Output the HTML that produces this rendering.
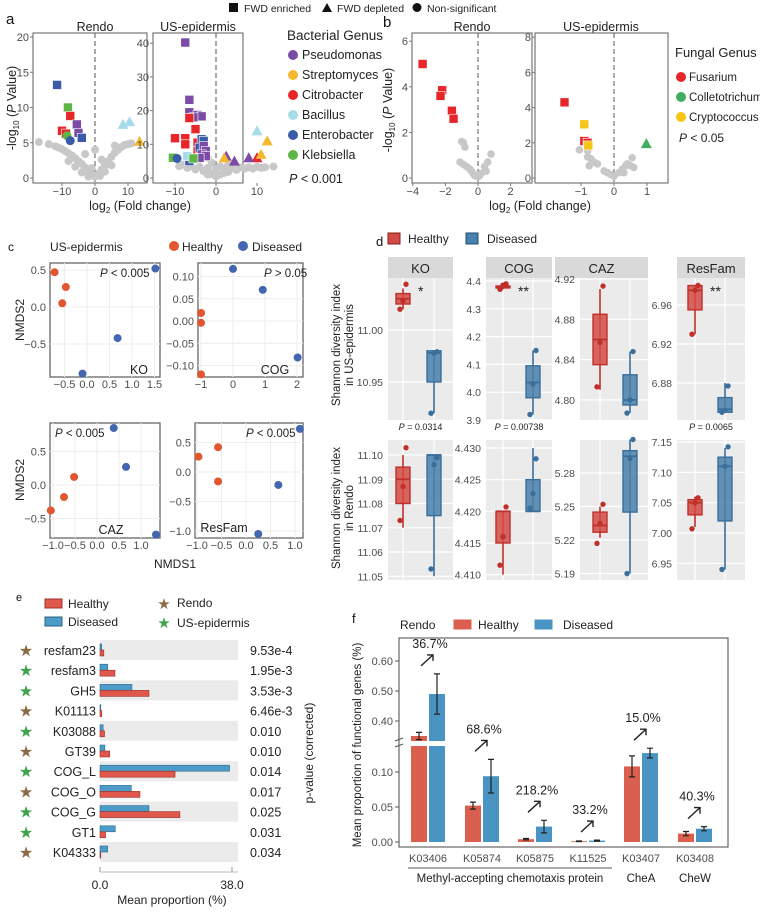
<!DOCTYPE html>
<html><head><meta charset="utf-8">
<style>
html,body{margin:0;padding:0;background:#fff;}
svg{display:block;font-family:"Liberation Sans",Arial,sans-serif;font-size:12.5px;}
.tk{fill:#4d4d4d;}
.lg{fill:#222;}
.pl{fill:#111;}
</style></head>
<body>
<svg id="fig" width="760" height="913" viewBox="0 0 760 913" xmlns="http://www.w3.org/2000/svg">
<text x="6" y="24" class="pl" font-size="15">a</text>
<text x="383" y="27" class="pl" font-size="15">b</text>
<text x="8" y="251" class="pl" font-size="12">c</text>
<text x="376" y="246" class="pl" font-size="13">d</text>
<text x="16" y="601" class="pl" font-size="11">e</text>
<text x="352" y="623" class="pl" font-size="13">f</text>

<g>
<rect x="229" y="3" width="9" height="9" fill="#111"/>
<text x="244" y="12" class="lg" font-size="10.5">FWD enriched</text>
<polygon points="327,3 322,12 332,12" fill="#111"/>
<text x="337" y="12" class="lg" font-size="10.5">FWD depleted</text>
<circle cx="417" cy="7.5" r="4.5" fill="#111"/>
<text x="427" y="12" class="lg" font-size="10.5">Non-significant</text>
</g>

<text x="95" y="31" class="lg" text-anchor="middle" font-size="12.5">Rendo</text>
<text x="198" y="31" class="lg" text-anchor="middle" font-size="12.5">US-epidermis</text>
<text transform="translate(16,108) rotate(-90)" text-anchor="middle" class="lg" font-size="12.5">-log<tspan font-size="8" dy="3">10</tspan><tspan dy="-3"> (</tspan><tspan font-style="italic">P</tspan> Value)</text>
<text x="140" y="210" text-anchor="middle" class="lg" font-size="12.5">log<tspan font-size="8" dy="3">2</tspan><tspan dy="-3"> (Fold change)</tspan></text>
<text x="287" y="40" class="lg" font-size="13.5">Bacterial Genus</text>
<g id="aLegend"></g>
<text x="289" y="183" class="lg" font-size="12.5"><tspan font-style="italic">P</tspan> &lt; 0.001</text>

<text x="472" y="31" class="lg" text-anchor="middle" font-size="12.5">Rendo</text>
<text x="601" y="31" class="lg" text-anchor="middle" font-size="12.5">US-epidermis</text>
<text transform="translate(392,110) rotate(-90)" text-anchor="middle" class="lg" font-size="12.5">-log<tspan font-size="8" dy="3">10</tspan><tspan dy="-3"> (</tspan><tspan font-style="italic">P</tspan> Value)</text>
<text x="540" y="210" text-anchor="middle" class="lg" font-size="12.5">log<tspan font-size="8" dy="3">2</tspan><tspan dy="-3"> (Fold change)</tspan></text>
<text x="675" y="57" class="lg" font-size="13">Fungal Genus</text>
<g id="bLegend"></g>
<text x="679" y="142" class="lg" font-size="12"><tspan font-style="italic">P</tspan> &lt; 0.05</text>

<text x="50" y="251" class="lg" font-size="12">US-epidermis</text>
<circle cx="174" cy="246" r="5" fill="#E2562F"/>
<text x="182" y="251" class="lg" font-size="12">Healthy</text>
<circle cx="243" cy="246" r="5" fill="#4466B0"/>
<text x="252" y="251" class="lg" font-size="12">Diseased</text>
<text transform="translate(24,320) rotate(-90)" text-anchor="middle" class="lg" font-size="12">NMDS2</text>
<text transform="translate(24,480) rotate(-90)" text-anchor="middle" class="lg" font-size="12">NMDS2</text>
<text x="175" y="568" text-anchor="middle" class="lg" font-size="12">NMDS1</text>

<rect x="388" y="233" width="12" height="11" fill="#D24B44" stroke="#8a1e1a"/>
<text x="408" y="243" class="lg" font-size="12">Healthy</text>
<rect x="466" y="233" width="12" height="11" fill="#4A80AC" stroke="#1f4a6e"/>
<text x="487" y="243" class="lg" font-size="12">Diseased</text>
<text transform="translate(340,345) rotate(-90)" text-anchor="middle" class="lg" font-size="11.5">Shannon diversity index</text>
<text transform="translate(353,345) rotate(-90)" text-anchor="middle" class="lg" font-size="11.5">in US-epidermis</text>
<text transform="translate(340,508) rotate(-90)" text-anchor="middle" class="lg" font-size="11.5">Shannon diversity index</text>
<text transform="translate(353,508) rotate(-90)" text-anchor="middle" class="lg" font-size="11.5">in Rendo</text>
<g id="dG"></g>

<rect x="45" y="599" width="17" height="9" fill="#E0584B" stroke="#9c3028"/>
<text x="68" y="608" class="lg" font-size="12">Healthy</text>
<rect x="45" y="617" width="17" height="9" fill="#4C9BC9" stroke="#2a5f80"/>
<text x="68" y="626" class="lg" font-size="12">Diseased</text>
<text x="164" y="609" text-anchor="middle" font-size="15" fill="#8B6B43">★</text>
<text x="177" y="607" class="lg" font-size="12">Rendo</text>
<text x="164" y="628" text-anchor="middle" font-size="15" fill="#3FA34D">★</text>
<text x="177" y="627" class="lg" font-size="12">US-epidermis</text>
<text transform="translate(313,753) rotate(-90)" text-anchor="middle" class="lg" font-size="12">p-value (corrected)</text>
<text x="172" y="904" text-anchor="middle" class="lg" font-size="12">Mean proportion (%)</text>
<g id="eG"></g>

<text x="400" y="629" class="lg" font-size="12">Rendo</text>
<rect x="453" y="619" width="19" height="11" fill="#DB5F4F" stroke="#fff"/>
<text x="478" y="629" class="lg" font-size="12">Healthy</text>
<rect x="534" y="619" width="19" height="11" fill="#4A94C4" stroke="#fff"/>
<text x="563" y="629" class="lg" font-size="12">Diseased</text>
<text transform="translate(361,745) rotate(-90)" text-anchor="middle" class="lg" font-size="11.5">Mean proportion of functional genes (%)</text>
<line x1="408" y1="868" x2="612" y2="868" stroke="#555"/>
<text x="510" y="882" text-anchor="middle" class="lg" font-size="11.5">Methyl-accepting chemotaxis protein</text>
<text x="641" y="882" text-anchor="middle" class="lg" font-size="11.5">CheA</text>
<text x="695" y="882" text-anchor="middle" class="lg" font-size="11.5">CheW</text>
<g id="fG"></g>
<g id="aG"></g>
<g id="bG"></g>
<g id="cG"></g>
</svg>
<script>
// ---------- DATA ----------
var aGenera = ["Pseudomonas","Streptomyces","Citrobacter","Bacillus","Enterobacter","Klebsiella"];
var aColors = ["#7B4BA6","#F5B82E","#E8262A","#A6DCEA","#3A5BA9","#5DB544"];
var aRendoSig = [[-11.5,13.2,"s",4],[-8.2,10,"s",5],[-7.5,8.8,"s",2],[-5.5,7.6,"s",0],[-10,6.7,"s",2],[-8.8,6.3,"s",2],[-5,6.4,"s",0],[-8.5,6,"c",5],[-7.5,5.3,"c",4],[-4,5.7,"s",4],[8.5,7.6,"t",3],[10.5,8,"t",3],[13.5,5.2,"t",1]];
var aRendoGray = [[-17,5.1],[-14,4.8],[-12,4.5],[-11,4.3],[-10,4.1],[-9,3.8],[-8,3.5],[-7,3.2],[-6,2.8],[-5,2.4],[-4,2],[-3,1.5],[-2,1],[-1,0.5],[0,0.2],[1,0.6],[2,1.2],[3,1.8],[4,2.4],[5,3],[6,3.6],[7,4],[8,4.4],[9,4.7],[10,4.8],[11,4.9],[-6,1.6],[-4,0.8],[3,0.9],[5,1.8],[-8,2.4],[-2,0.2],[1.5,0.3],[6,4.6],[-1,1.4],[2,2.6],[-3,3.4],[0,4]];
var aUsSig = [[-7.5,40.2,"s",0],[-6.5,23.2,"s",0],[-6.5,19.5,"s",0],[-4.5,18.7,"s",0],[-3.5,18.3,"s",0],[-5.5,18,"s",0],[-6.5,17.8,"s",2],[-10,11.8,"s",2],[-7.5,11.8,"s",2],[-7.5,10,"s",2],[-5,14.5,"s",2],[-4.5,10.5,"s",2],[-4.5,8,"s",2],[-3.5,11.5,"s",4],[-3,11,"s",4],[-4,9,"s",4],[-6.5,5,"s",4],[-3,9.5,"s",0],[-2.5,8,"s",0],[-3.5,7,"s",0],[-2.5,6.5,"s",0],[-4,6,"s",0],[-7,6.5,"s",3],[-10.5,6,"s",5],[-5.5,5.8,"s",5],[-9.5,5.8,"c",4],[10,6,"t",2],[2.5,6.5,"t",0],[4.5,5,"t",0],[8,6,"t",0],[2,6,"t",1],[11,7,"t",1],[12.5,11,"t",1],[10,14,"t",3]];
var aUsGray = [[-8,4],[-6,3.6],[-4,3.3],[-2,3],[0,2.8],[2,2.9],[4,3],[6,3.1],[8,3.2],[10,3.3],[12,3.2],[14,3.4],[-3,2],[-1,1.2],[0,0.5],[1,1],[3,1.8],[5,2.4],[7,2.8],[-5,2.5],[-7,3],[-9,3.5],[-2,1],[2,1.5],[9,2.8],[11,3],[-6,5],[-4,5.5],[-3,7],[-2,6],[-1,4.5],[1,3.5],[3,4]];
var aRendoYTicks = [0,5,10,15,20];
var aUsYTicks = [0,10,20,30,40];
var aXTicks = [-10,0,10];

var bGenera = ["Fusarium","Colletotrichum","Cryptococcus"];
var bColors = ["#E8262A","#3FAE62","#F5C518"];
var bRendoSig = [[-3.4,5,"s",0],[-2.2,3.85,"s",0],[-2.3,3.6,"s",0],[-1.6,2.95,"s",0],[-1.5,2.6,"s",0]];
var bRendoGray = [[-1,1.6],[-0.9,1.55],[-0.8,1.35],[-1.1,0.7],[-0.9,0.6],[-0.5,0.4],[-0.3,0.2],[-0.2,0.1],[0,0.05],[0.2,0.2],[0.4,0.5],[0.6,0.7],[0.8,1.05],[0.5,0.3],[-0.4,0.3],[-0.7,0.5],[0.1,0.1]];
var bUsSig = [[-1.5,4.3,"s",0],[-0.9,2.1,"s",0],[-0.8,2.0,"s",0],[-0.9,3.05,"s",2],[-0.78,1.85,"s",2],[0.98,1.95,"t",1]];
var bUsGray = [[-1.05,1.6],[-0.8,1.55],[-0.8,1.2],[-0.7,1.1],[-0.6,0.9],[-0.5,0.8],[-0.75,0.7],[-0.3,0.4],[-0.2,0.3],[-0.1,0.2],[0,0.1],[0.15,0.3],[0.25,0.5],[0.35,0.7],[0.4,0.8],[0.5,0.7],[0.55,1.15],[0.6,0.6],[0.3,0.3]];
var bRendoXTicks = [-4,-2,0,2];
var bRendoYTicks = [0,2,4,6];
var bUsXTicks = [-1,0,1];
var bUsYTicks = [0,2,4,6,8];

var cKoH = [[-0.72,0.47],[-0.47,0.27],[-0.55,0.05]];
var cKoD = [[1.52,0.52],[0.68,-0.42],[-0.1,-0.9]];
var cCogH = [[-1,0.018],[-1,-0.004],[-1,-0.12]];
var cCogD = [[0,0.117],[0.93,0.07],[2.02,-0.082]];
var cCazH = [[-1.05,-0.38],[-0.75,-0.18],[-0.52,0.12]];
var cCazD = [[0.38,0.85],[0.66,0.27],[1.34,-0.74]];
var cResH = [[-0.97,0.26],[-0.57,0.42],[-0.57,-0.16]];
var cResD = [[1.1,0.73],[0.66,-0.22],[0.25,-1.05]];

var dFacets = ["KO","COG","CAZ","ResFam"];
var dUsH = [[11.02,11.025,11.03,11.035,11.04],[4.37,4.375,4.38,4.382,4.39],[4.81,4.835,4.86,4.885,4.91],[6.93,6.955,6.975,6.98,6.98]];
var dUsD = [[10.92,10.95,10.978,10.98,10.98],[3.92,3.98,4.035,4.095,4.15],[4.787,4.795,4.80,4.825,4.848],[6.85,6.85,6.853,6.865,6.88]];
var dUsHPts = [[11.02,11.028,11.044],[4.37,4.385,4.39],[4.813,4.857,4.913],[6.93,6.975,6.98]];
var dUsDPts = [[10.92,10.978,10.979],[3.92,4.03,4.15],[4.787,4.80,4.848],[6.85,6.852,6.877]];
var dRenH = [[11.07,11.08,11.09,11.095,11.10],[4.41,4.415,4.42,4.42,4.42],[5.222,5.227,5.233,5.245,5.25],[7.01,7.03,7.05,7.055,7.06]];
var dRenD = [[11.05,11.075,11.10,11.10,11.10],[4.42,4.42,4.42,4.425,4.43],[5.19,5.245,5.295,5.30,5.31],[6.94,7.02,7.11,7.125,7.14]];
var dRenHPts = [[11.073,11.087,11.103],[4.4115,4.416,4.4207],[5.217,5.235,5.252],[7.007,7.05,7.058]];
var dRenDPts = [[11.053,11.096,11.099],[4.4205,4.4228,4.4283],[5.19,5.293,5.31],[6.94,7.11,7.142]];
var dUsTicks = [["11.00","10.95"],["4.4","4.3","4.2","4.1","4.0","3.9"],["4.92","4.88","4.84","4.80"],["6.96","6.92","6.88"]];
var dRenTicks = [["11.10","11.09","11.08","11.07","11.06","11.05"],["4.430","4.425","4.420","4.415","4.410"],["5.28","5.25","5.22","5.19"],["7.15","7.10","7.05","7.00","6.95"]];
var dPLabels = [" = 0.0314"," = 0.00738",""," = 0.0065"];
var dStars = ["*","**","","**"];

var eTerms = ["resfam23","resfam3","GH5","K01113","K03088","GT39","COG_L","COG_O","COG_G","GT1","K04333"];
var eSite = ["R","U","U","R","U","R","U","R","U","U","R"];
var eHealthy = [1.1,4.3,14.1,0.5,1.3,2.8,21.6,11.5,23,1.6,0.1];
var eDiseased = [0.5,2.2,9.2,0.2,0.9,1.4,37.3,9,14.1,4.4,2.2];
var ePvals = ["9.53e-4","1.95e-3","3.53e-3","6.46e-3","0.010","0.010","0.014","0.017","0.025","0.031","0.034"];
var eXTicks = [0,38];

var fGenes = ["K03406","K05874","K05875","K11525","K03407","K03408"];
var fHealthy = [0.35,0.052,0.004,0.001,0.108,0.012];
var fDiseased = [0.49,0.094,0.022,0.002,0.127,0.019];
var fHealthyErr = [0.012,0.005,0.001,0.0004,0.015,0.003];
var fDiseasedErr = [0.067,0.024,0.009,0.0008,0.007,0.003];
var fChange = ["36.7%","68.6%","218.2%","33.2%","15.0%","40.3%"];
var fTicksLow = [0,0.05,0.10];
var fTicksHigh = [0.40,0.50,0.60];

// ---------- helpers ----------
var NS="http://www.w3.org/2000/svg";
function mk(tag,attrs,parent){var e=document.createElementNS(NS,tag);for(var k in attrs)e.setAttribute(k,attrs[k]);parent.appendChild(e);return e;}
function txt(s,attrs,parent){if(attrs["class"]=="tk"&&!attrs["font-size"])attrs["font-size"]="11";var e=mk("text",attrs,parent);e.textContent=s;return e;}

function volcano(g,box,sx,sy,xt,yt,gray,sig,colors,pre,gr){
  var f=mk("rect",{x:box[0],y:box[1],width:box[2]-box[0],height:box[3]-box[1],fill:"#fff",stroke:"#777","stroke-width":1.2},g);
  
  
  var z=mk("line",{x1:sx(0),x2:sx(0),y1:box[1],y2:box[3],stroke:"#555","stroke-dasharray":"5,3"},g);
  
  
  xt.forEach(function(v){
    var t=txt(v<0?"\u2212"+(-v):String(v),{x:sx(v),y:box[3]+12,"text-anchor":"middle",class:"tk"},g);
    
    
    mk("line",{x1:sx(v),x2:sx(v),y1:box[3],y2:box[3]+3,stroke:"#777"},g);
  });
  yt.forEach(function(v){
    var t=txt(String(v),{x:box[0]-4,y:sy(v)+4,"text-anchor":"end",class:"tk"},g);
    
    
    mk("line",{x1:box[0]-3,x2:box[0],y1:sy(v),y2:sy(v),stroke:"#777"},g);
  });
  gray.forEach(function(p){
    var c=mk("circle",{cx:sx(p[0]),cy:sy(p[1]),r:gr,fill:"#C8C8C8"},g);
    
    
  });
  sig.forEach(function(p){
    var x=sx(p[0]),y=sy(p[1]),col=colors[p[3]],e;
    if(p[2]=="s")e=mk("rect",{x:x-4.5,y:y-4.5,width:9,height:9,fill:col,stroke:"#fff","stroke-width":0.6},g);
    else if(p[2]=="t")e=mk("polygon",{points:x+","+(y-5.5)+" "+(x-5.5)+","+(y+4.5)+" "+(x+5.5)+","+(y+4.5),fill:col},g);
    else e=mk("circle",{cx:x,cy:y,r:4.5,fill:col},g);
    
    
  });
}
var aG=document.getElementById("aG");
volcano(aG,[33,33,147,183],function(v){return 95+v*3.3;},function(v){return 178-v*7.05;},aXTicks,aRendoYTicks,aRendoGray,aRendoSig,aColors,"a-rendo",4);
volcano(aG,[153,33,243,183],function(v){return 216+v*4.1;},function(v){return 178-v*3.37;},aXTicks,aUsYTicks,aUsGray,aUsSig,aColors,"a-us",4);
var aL=document.getElementById("aLegend");
aGenera.forEach(function(n,i){
  var y=59+i*20;
  var c=mk("circle",{cx:293,cy:y-4,r:5,fill:aColors[i]},aL);
  
  
  var t=txt(n,{x:302,y:y,class:"lg","font-size":"12.5"},aL);
  
  
});
var bG=document.getElementById("bG");
volcano(bG,[412,33,532,183],function(v){return 478+v*16.3;},function(v){return 178-v*22.8;},bRendoXTicks,bRendoYTicks,bRendoGray,bRendoSig,bColors,"b-rendo",3.8);
volcano(bG,[535,33,668,183],function(v){return 614+v*33;},function(v){return 178-v*17.6;},bUsXTicks,bUsYTicks,bUsGray,bUsSig,bColors,"b-us",3.8);
var bL=document.getElementById("bLegend");
bGenera.forEach(function(n,i){
  var y=81+i*20;
  var c=mk("circle",{cx:681,cy:y-4,r:5,fill:bColors[i]},bL);
  
  
  var t=txt(n,{x:689,y:y,class:"lg","font-size":"11.5"},bL);
  
  
});

// ---------- panel c ----------
var cG=document.getElementById("cG");
function nmds(box,sx,sy,xt,yt,H,D,lab,labPos,pTxt,pPos,pre){
  var f=mk("rect",{x:box[0],y:box[1],width:box[2]-box[0],height:box[3]-box[1],fill:"#fff",stroke:"#666","stroke-width":1.3},cG);
  
  
  xt.forEach(function(v){
    var gl=mk("line",{x1:sx(v[0]),x2:sx(v[0]),y1:box[1],y2:box[3],stroke:"#eee"},cG);
    
    
    var t=txt(v[1],{x:sx(v[0]),y:box[3]+11,"text-anchor":"middle",class:"tk"},cG);
    
    
  });
  yt.forEach(function(v){
    var gl=mk("line",{x1:box[0],x2:box[2],y1:sy(v[0]),y2:sy(v[0]),stroke:"#eee"},cG);
    
    
    var t=txt(v[1],{x:box[0]-4,y:sy(v[0])+4,"text-anchor":"end",class:"tk"},cG);
    
    
  });
  H.forEach(function(p){
    var c=mk("circle",{cx:sx(p[0]),cy:sy(p[1]),r:4,fill:"#E2562F"},cG);
    
    
  });
  D.forEach(function(p){
    var c=mk("circle",{cx:sx(p[0]),cy:sy(p[1]),r:4,fill:"#4466B0"},cG);
    
    
  });
  var l=txt(lab,{x:labPos[0],y:labPos[1],"text-anchor":"middle",class:"lg","font-size":"12.5"},cG);
  
  
  var p=mk("text",{x:pPos[0],y:pPos[1],class:"lg","font-size":"11.5"},cG);
  
  
  var it=mk("tspan",{"font-style":"italic"},p);it.textContent="P";
  var rest=mk("tspan",{},p);rest.textContent=pTxt;
}
nmds([50,263,160,377],function(v){return 87+v*45;},function(v){return 307-v*74;},
 [[-0.5,"\u22120.5"],[0,"0.0"],[0.5,"0.5"],[1,"1.0"],[1.5,"1.5"]],[[0.5,"0.5"],[0,"0.0"],[-0.5,"\u22120.5"]],
 cKoH,cKoD,"KO",[139,374]," < 0.005",[100,277],"c-ko");
nmds([198,263,303,377],function(v){return 233+v*32;},function(v){return 321-v*445;},
 [[-1,"\u22121"],[0,"0"],[1,"1"],[2,"2"]],[[0.1,"0.10"],[0.05,"0.05"],[0,"0.00"],[-0.05,"\u22120.05"],[-0.1,"\u22120.10"]],
 cCogH,cCogD,"COG",[275,374]," > 0.05",[264,277],"c-cog");
nmds([50,423,160,538],function(v){return 97+v*44;},function(v){return 485-v*67;},
 [[-1,"\u22121.0"],[-0.5,"\u22120.5"],[0,"0.0"],[0.5,"0.5"],[1,"1.0"]],[[0.5,"0.5"],[0,"0.0"],[-0.5,"\u22120.5"]],
 cCazH,cCazD,"CAZ",[111,534]," < 0.005",[55,437],"c-caz");
nmds([195,423,303,538],function(v){return 246+v*49;},function(v){return 472-v*59;},
 [[-1,"\u22121.0"],[-0.5,"\u22120.5"],[0,"0.0"],[0.5,"0.5"],[1,"1.0"]],[[0.5,"0.5"],[0,"0.0"],[-0.5,"\u22120.5"],[-1,"\u22121.0"]],
 cResH,cResD,"ResFam",[224,532]," < 0.005",[246,437],"c-resfam");

// ---------- panel d ----------
var dG=document.getElementById("dG");
var dX=[[388,453],[486,552],[580,648],[677,745]];
var dStrip=[[388,453],[486,552],[555,648],[677,745]];
var dHx=[403,503,600,695], dDx=[434,533,630,725];
var dUsMap=[[11,330,1040],[4.4,281,278],[4.92,279,1008],[6.96,305,975]];
var dRenMap=[[11.1,455,2425],[4.43,448,6333],[5.28,473,1117],[7.15,442,607]];
function dPanel(i,top,bot,map,ticks,H,D,HP,DP,pre){
  var sy=function(v){return map[1]-(v-map[0])*map[2];};
  var x0=dX[i][0],x1=dX[i][1];
  var bg=mk("rect",{x:x0,y:top,width:x1-x0,height:bot-top,fill:"#EBEBEB"},dG);
  
  
  ticks.forEach(function(s){
    var v=parseFloat(s),y=sy(v);
    if(y<top-2||y>bot+2)return;
    var gl=mk("line",{x1:x0,x2:x1,y1:y,y2:y,stroke:"#fff","stroke-width":1.2},dG);
    
    
    var t=txt(s,{x:x0-5,y:y+4,"text-anchor":"end",class:"tk","font-size":"10.5"},dG);
    
    
  });
  [dHx[i],dDx[i]].forEach(function(x){
    var gl=mk("line",{x1:x,x2:x,y1:top,y2:bot,stroke:"#fff","stroke-width":1.2},dG);
    
    
  });
  function box(st,pts,cx,fill,str,nm){
    var w=mk("line",{x1:cx,x2:cx,y1:sy(st[0]),y2:sy(st[4]),stroke:str,"stroke-width":1.6},dG);
    
    
    var r=mk("rect",{x:cx-7,y:sy(st[3]),width:14,height:Math.max(1,sy(st[1])-sy(st[3])),fill:fill,"fill-opacity":0.85,stroke:str,"stroke-width":1.4},dG);
    
    
    var m=mk("line",{x1:cx-7,x2:cx+7,y1:sy(st[2]),y2:sy(st[2]),stroke:str,"stroke-width":1.8},dG);
    
    
    pts.forEach(function(v,k){
      var c=mk("circle",{cx:cx+(k-1)*3,cy:sy(v),r:2.7,fill:str},dG);
      
      
    });
  }
  box(H,HP,dHx[i],"#D24B44","#C0302B",pre+'-healthy');
  box(D,DP,dDx[i],"#4A80AC","#3A6F9C",pre+'-diseased');
}
dFacets.forEach(function(f,i){
  var s=mk("rect",{x:dStrip[i][0],y:257,width:dStrip[i][1]-dStrip[i][0],height:21,fill:"#D9D9D9"},dG);
  
  
  var t=txt(f,{x:(dStrip[i][0]+dStrip[i][1])/2,y:273,"text-anchor":"middle",class:"lg","font-size":"13"},dG);
  
  
  dPanel(i,278,420,dUsMap[i],dUsTicks[i],dUsH[i],dUsD[i],dUsHPts[i],dUsDPts[i],'d-us-'+f.toLowerCase());
  dPanel(i,440,580,dRenMap[i],dRenTicks[i],dRenH[i],dRenD[i],dRenHPts[i],dRenDPts[i],'d-rendo-'+f.toLowerCase());
  if(dPLabels[i]){
    var p=mk("text",{x:(dX[i][0]+dX[i][1])/2,y:430,"text-anchor":"middle",class:"lg","font-size":"9"},dG);
    
    
    var it=mk("tspan",{"font-style":"italic"},p);it.textContent="P";
    var rs=mk("tspan",{},p);rs.textContent=dPLabels[i];
  }
  if(dStars[i]){
    var st=txt(dStars[i],{x:dHx[i]+15,y:296,class:"lg","font-size":"14"},dG);
    
    
  }
});

// ---------- panel e ----------
var eG=document.getElementById("eG");
var ex=function(v){return 100+v*(132/38);};
var ey0=650, eStep=20.2;
eTerms.forEach(function(t,i){
  var cy=ey0+i*eStep;
  if(i%2==0){
    var band=mk("rect",{x:100,y:cy-10,width:138,height:20,fill:"#EBEBEB"},eG);
    
    
  }
  var s=txt("★",{x:26,y:cy+6,"text-anchor":"middle","font-size":"16",fill:eSite[i]=="R"?"#8B6B43":"#3FA34D"},eG);
  
  
  var l=txt(t,{x:96,y:cy+5,"text-anchor":"end",class:"lg","font-size":"12.5"},eG);
  
  
  var bd=mk("rect",{x:100,y:cy-6,width:Math.max(0.8,ex(eDiseased[i])-100),height:6,fill:"#4C9BC9",stroke:"#2f6a8e","stroke-width":0.6},eG);
  
  
  var bh=mk("rect",{x:100,y:cy,width:Math.max(0.8,ex(eHealthy[i])-100),height:6,fill:"#E0584B",stroke:"#9c3028","stroke-width":0.6},eG);
  
  
  var p=txt(ePvals[i],{x:250,y:cy+5,class:"lg","font-size":"12.5",fill:"#333"},eG);
  
  
});
var eAx=mk("line",{x1:100,x2:238,y1:872,y2:872,stroke:"#bbb"},eG);


eXTicks.forEach(function(v){
  mk("line",{x1:ex(v),x2:ex(v),y1:867,y2:872,stroke:"#999"},eG);
  var t=txt(v.toFixed(1),{x:ex(v),y:889,"text-anchor":"middle",class:"lg","font-size":"12",fill:"#444"},eG);
  
  
});

// ---------- panel f ----------
var fG=document.getElementById("fG");
var fBase=842, fLowScale=700, fBreakY=744, fHighRef=0.40, fHighRefY=721, fHighScale=300;
function fy(v){ return v<=0.14 ? fBase-v*fLowScale : fHighRefY-(v-fHighRef)*fHighScale; }
var fFrame=mk("rect",{x:399,y:638,width:329,height:209,fill:"#fff",stroke:"#666","stroke-width":1.2},fG);


fTicksLow.concat(fTicksHigh).forEach(function(v){
  var y=fy(v);
  mk("line",{x1:395,x2:399,y1:y,y2:y,stroke:"#555"},fG);
  var t=txt(v.toFixed(2),{x:393,y:y+4,"text-anchor":"end",class:"tk"},fG);
  
  
});
var brk=mk("path",{d:"M395,741 L403,738 M395,747 L403,744",stroke:"#555",fill:"none"},fG);


var fCx=[428,482,535,588,641,695];
function fBar(cx,v,err,col,nm){
  var top=fy(v);
  if(v>0.14){
    var lo=mk("rect",{x:cx-8,y:fBreakY+2,width:16,height:fBase-fBreakY-2,fill:col},fG);
    
    
    var hi=mk("rect",{x:cx-8,y:top,width:16,height:fBreakY-3-top,fill:col},fG);
    
    
  } else {
    var r=mk("rect",{x:cx-8,y:top,width:16,height:Math.max(0.8,fBase-top),fill:col},fG);
    
    
  }
  var y1=fy(v+err),y2=fy(v-err);
  var eb=mk("path",{d:"M"+cx+","+y1+" L"+cx+","+y2+" M"+(cx-3)+","+y1+" L"+(cx+3)+","+y1+" M"+(cx-3)+","+y2+" L"+(cx+3)+","+y2,stroke:"#222","stroke-width":1.2,fill:"none"},fG);
  
  
}
fGenes.forEach(function(g,i){
  var c=fCx[i];
  fBar(c-9,fHealthy[i],fHealthyErr[i],"#DB5F4F",'f-bar-healthy');
  fBar(c+9,fDiseased[i],fDiseasedErr[i],"#4A94C4",'f-bar-diseased');
  var t=txt(g,{x:c,y:862,"text-anchor":"middle",class:"tk","font-size":"11"},fG);
  
  
  var topY=fy(Math.max(fHealthy[i]+fHealthyErr[i],fDiseased[i]+fDiseasedErr[i]));
  var ay=topY-8;
  var ar=mk("path",{d:"M"+(c-7)+","+ay+" L"+(c+5)+","+(ay-11)+" M"+(c-1)+","+(ay-11)+" L"+(c+5)+","+(ay-11)+" L"+(c+5)+","+(ay-5),stroke:"#222","stroke-width":1.4,fill:"none"},fG);
  
  
  var pl=txt(fChange[i],{x:c+2,y:ay-18,"text-anchor":"middle",class:"lg","font-size":"12.5"},fG);
  
  
});
</script>
</body></html>
